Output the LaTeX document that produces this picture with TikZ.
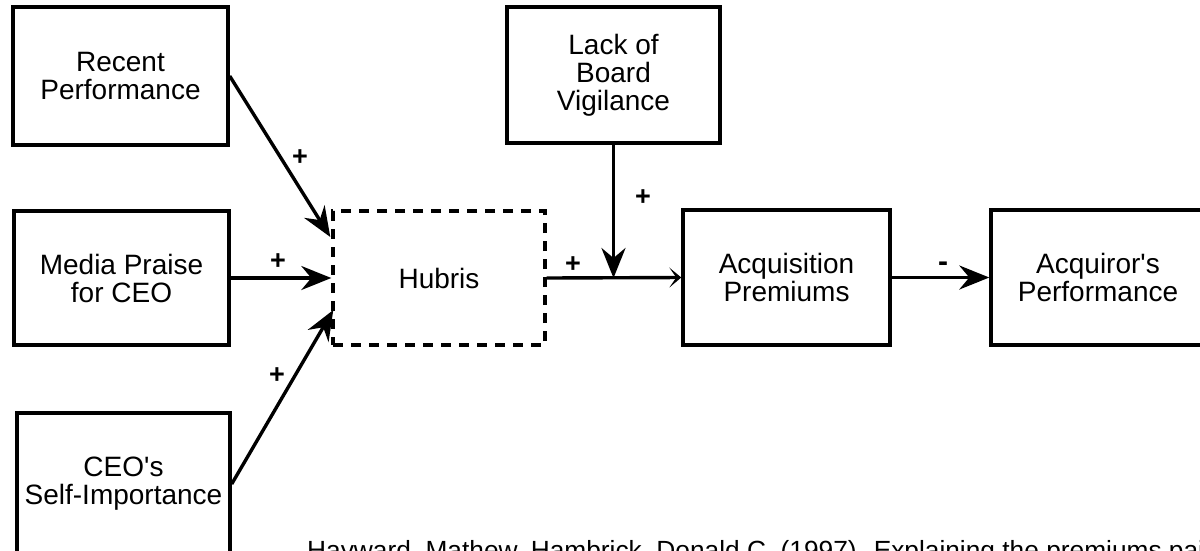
\documentclass[tikz,border=0pt]{standalone}
\usepackage{fontspec}
\setmainfont{Liberation Sans}
\usetikzlibrary{arrows.meta,calc}

\begin{document}
\begin{tikzpicture}[x=1pt,y=-1pt,
  box/.style={draw, line width=3.4pt, inner sep=0pt, align=center,
    font=\fontsize{28}{28}\selectfont},
  dbox/.style={box, dash pattern=on 10pt off 8pt},
  link/.style={line width=3.4pt, -{Stealth[length=30pt,width=24pt,inset=10pt]}},
  slink/.style={line width=3.4pt, -{Stealth[length=12pt,width=20pt,inset=7pt]}},
  sign/.style={inner sep=0pt, font=\bfseries\fontsize{27}{27}\selectfont}]

\useasboundingbox (0,0) rectangle (1200,550);
\clip (0,0) rectangle (1200,550);

% antecedents of hubris
\node[box, minimum width=215pt, minimum height=138pt] (rp) at (120.5,76) {Recent\\Performance};
\node[box, minimum width=215pt, minimum height=134pt] (mp) at (121.5,278) {Media Praise\\for CEO};
\node[box, minimum width=213pt, minimum height=142pt] (ceo) at (123.5,484) {CEO\textquotesingle s\\Self-Importance};

% hubris and its consequences
\node[dbox, minimum width=212pt, minimum height=134pt] (hub) at (439,278) {Hubris};
\node[box, minimum width=213pt, minimum height=136pt] (lack) at (613.5,75) {Lack of\\Board\\Vigilance};
\node[box, minimum width=207pt, minimum height=135pt] (acq) at (786.5,277.5) {Acquisition\\Premiums};
\node[box, minimum width=214pt, minimum height=135pt] (perf) at (1098,277.5) {Acquiror\textquotesingle s\\Performance};

% junction where board vigilance moderates the hubris path
\coordinate (jn) at (lack.south |- hub.east);

\draw[link] (rp.east) -- ($(hub.west)+(-1,-41)$);
\draw[link] (mp.east) -- (hub.west);
\draw[link] (ceo.east) -- ($(hub.west)+(2,32)$);
\draw[slink] (hub.east) -- (acq.west);
\draw[link] (lack.south) -- (jn);
\draw[link] (acq.east) -- (perf.west);

% signs of the effects
\node[sign] (s1) at (300,158) {+};
\node[sign] (s2) at (278,262) {+};
\node[sign] (s3) at (277,376) {+};
\node[sign] (s4) at (573,265) {+};
\node[sign] (s5) at (643,198) {+};
\node[sign, font=\bfseries\fontsize{30}{30}\selectfont] (s6) at (943,267) {-};

% source line
\node[anchor=base west, inner sep=0pt, font=\fontsize{26.3}{30}\selectfont] (cite) at (307,559)
  {Hayward, Mathew, Hambrick, Donald C. (1997). Explaining the premiums paid};
\end{tikzpicture}
\end{document}
